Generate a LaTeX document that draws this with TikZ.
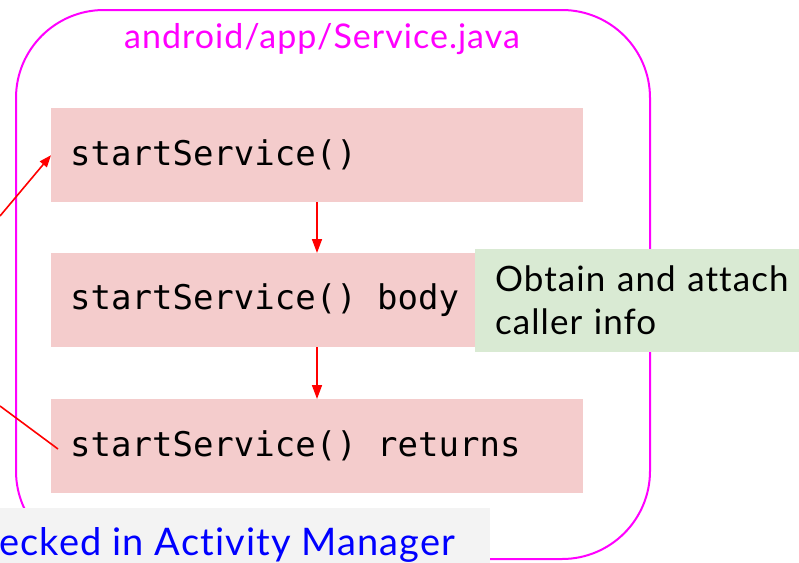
\documentclass[tikz,border=0pt]{standalone}
\usepackage{fontspec}
\setmainfont{Lato}[LetterSpace=3, Ligatures={NoCommon}]
\setmonofont{DejaVu Sans Mono}
\usetikzlibrary{arrows.meta}
\definecolor{boxpink}{HTML}{F4CCCC}
\definecolor{notegreen}{HTML}{D9EAD3}
\definecolor{bargray}{HTML}{F3F3F3}
\definecolor{frame}{HTML}{FF00FF}
% fixed-width gap between code words
\newcommand\codegap{\hspace{0.602em}}
\tikzset{
  codebox/.style={fill=boxpink, draw=none, anchor=north west,
    minimum width=532pt, minimum height=94pt, text width=494pt,
    inner xsep=19pt, inner ysep=0pt, align=left,
    font=\fontsize{34}{40}\selectfont\ttfamily},
  flow/.style={draw=red, line width=1.6pt, -{Triangle[length=14pt,width=10pt]}},
  call/.style={draw=red, line width=1.6pt}
}
\begin{document}
\begin{tikzpicture}[x=1pt,y=-1pt]
  \useasboundingbox (0,0) rectangle (799,562);
  % source file frame
  \draw[frame, line width=2pt, rounded corners=88pt] (16,10) rectangle (650,559);
  \node[text=frame, font=\fontsize{34}{40}\selectfont, anchor=base] (title) at (322,48) {android/app/Service.java};
  % call sequence
  \node[codebox] (start) at (51,108) {startService()};
  \node[codebox] (body) at (51,253) {startService()\codegap body};
  \node[codebox] (ret) at (51,399) {startService()\codegap returns};
  % note beside the body
  \node[fill=notegreen, anchor=north west, minimum width=330pt, minimum height=103pt,
        text width=310pt, inner xsep=20pt, inner ysep=0pt, align=left,
        font=\fontsize{35}{43}\selectfont] (note) at (475,249) {Obtain and attach\\caller info};
  % manager bar at the bottom
  \node[fill=bargray, anchor=north west, minimum width=490pt, minimum height=60pt,
        inner sep=0pt] (mgr) at (0,508) {};
  \node[text=blue, font=\fontsize{38}{42}\selectfont, anchor=base west, inner sep=0pt] (mgrtext) at (-1,555) {ecked in Activity Manager};
  % connectors
  \draw[flow] (start.south -| 317,0) -- (body.north -| 317,0);
  \draw[flow] (body.south -| 317,0) -- (ret.north -| 317,0);
  \coordinate (inA) at (0,216);
  \coordinate (outB) at (0,406);
  \coordinate (retL) at (58,449);
  \draw[call, -{Triangle[length=12pt,width=9pt]}] (inA) -- (start.west);
  \draw[call] (retL) -- (outB);
\end{tikzpicture}
\end{document}
